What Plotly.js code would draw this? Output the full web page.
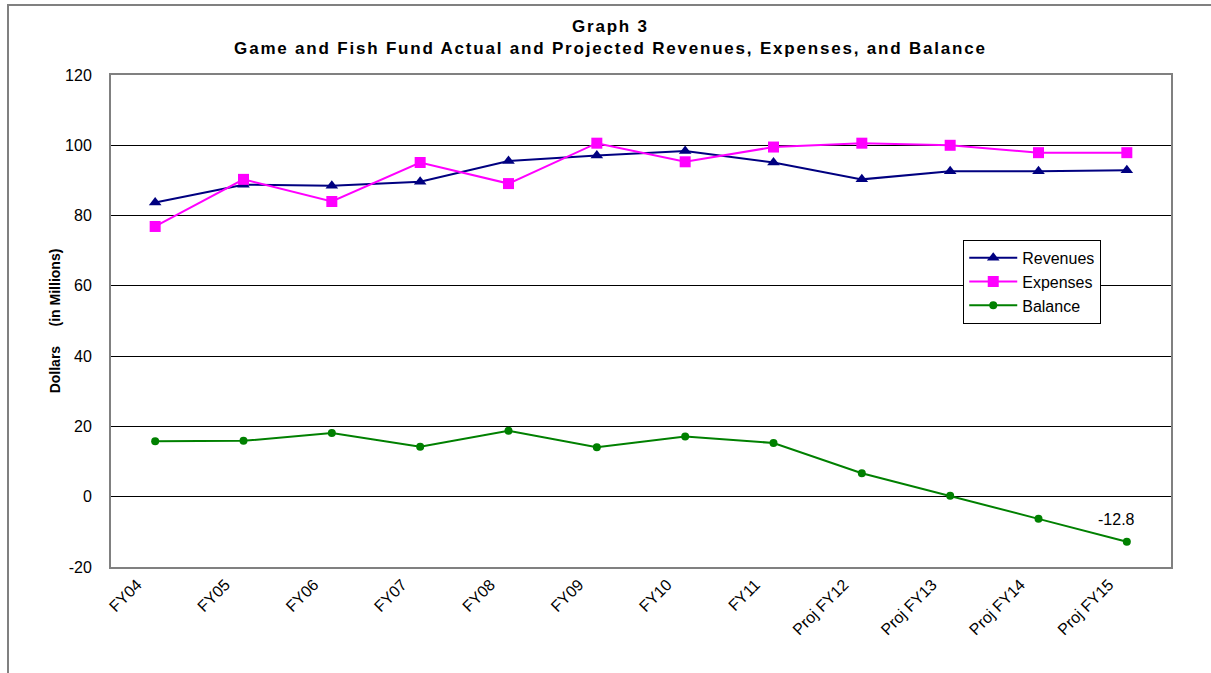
<!DOCTYPE html>
<html>
<head>
<meta charset="utf-8">
<script src="https://cdn.plot.ly/plotly-3.0.1.min.js"></script>
<style>
  html, body { margin: 0; padding: 0; background: #fff; }
  #frame { position: absolute; left: 7px; top: 4px; width: 1204px; height: 669px; border-left: 2px solid #808080; border-top: 2px solid #808080; }
  #chart { position: absolute; left: 0; top: 0; width: 1211px; height: 673px; }
  g.annotation[data-index="0"] text { letter-spacing: 1.8px; }
</style>
</head>
<body>
<div id="frame"></div>
<div id="chart"></div>
<script>
const categories = ["FY04", "FY05", "FY06", "FY07", "FY08", "FY09", "FY10", "FY11", "Proj FY12", "Proj FY13", "Proj FY14", "Proj FY15"];
const revenues = [83.7, 88.8, 88.5, 89.6, 95.5, 97.1, 98.4, 95.1, 90.3, 92.6, 92.6, 92.9];
const expenses = [76.9, 90.3, 84.0, 95.1, 89.1, 100.6, 95.3, 99.5, 100.6, 100.0, 97.9, 97.9];
const balance = [15.8, 15.9, 18.1, 14.2, 18.8, 14.1, 17.1, 15.3, 6.7, 0.3, -6.3, -12.8];
const yTicks = [-20, 0, 20, 40, 60, 80, 100, 120];
const titleLines = ["Graph 3", "Game and Fish Fund Actual and Projected Revenues, Expenses, and Balance"];

const font = "Liberation Sans, Arial, sans-serif";

const traces = [
  { name: "Revenues", x: categories, y: revenues, type: "scatter", mode: "lines+markers",
    line: { color: "#000080", width: 2 }, marker: { symbol: "triangle-up", size: 11, color: "#000080" } },
  { name: "Expenses", x: categories, y: expenses, type: "scatter", mode: "lines+markers",
    line: { color: "#FF00FF", width: 2 }, marker: { symbol: "square", size: 11, color: "#FF00FF" } },
  { name: "Balance", x: categories, y: balance, type: "scatter", mode: "lines+markers",
    line: { color: "#008000", width: 2 }, marker: { symbol: "circle", size: 8, color: "#008000" } }
];

const last = balance.length - 1;

const layout = {
  width: 1211, height: 673,
  paper_bgcolor: "rgba(0,0,0,0)", plot_bgcolor: "#ffffff",
  margin: { l: 111, r: 40, t: 75, b: 106 },
  font: { family: font, color: "#000", size: 16 },
  showlegend: true,
  legend: {
    x: 0.804, y: 0.665, xanchor: "left", yanchor: "top",
    bgcolor: "#ffffff", bordercolor: "#000", borderwidth: 1,
    font: { family: font, size: 16, color: "#000" },
    tracegroupgap: 0, itemwidth: 48
  },
  xaxis: {
    type: "category", range: [-0.5, 11.5],
    tickangle: -45, tickfont: { family: font, size: 16, color: "#000" },
    ticklabelshift: -18,
    showgrid: false, showline: true, linecolor: "#808080", linewidth: 2, mirror: true,
    ticks: "", fixedrange: true
  },
  yaxis: {
    range: [-20, 120], tickvals: yTicks, ticktext: yTicks.map(String),
    tickfont: { family: font, size: 16, color: "#000" },
    ticklabelstandoff: 14,
    showgrid: true, gridcolor: "#000", gridwidth: 1,
    zeroline: true, zerolinecolor: "#000", zerolinewidth: 1,
    showline: true, linecolor: "#808080", linewidth: 2, mirror: true,
    ticks: "", ticklen: 0,
    title: { text: "<b>Dollars\u00A0\u00A0\u00A0\u00A0\u00A0(in Millions)</b>", font: { family: font, size: 14, color: "#000" }, standoff: 1 }
  },
  annotations: [
    { xref: "paper", yref: "paper", x: 0.471, y: 1 + (75 - 37) / 492, xanchor: "center", yanchor: "middle",
      text: "<b>" + titleLines.join("</b><br><b>") + "</b>", showarrow: false, align: "center",
      font: { family: font, size: 17, color: "#000" } },
    { x: categories[last], y: balance[last], xref: "x", yref: "y",
      text: balance[last].toFixed(1), showarrow: false, yshift: 22, xshift: -10,
      font: { family: font, size: 16, color: "#000" } }
  ]
};

Plotly.newPlot("chart", traces, layout, { displayModeBar: false, staticPlot: true });
</script>
</body>
</html>
